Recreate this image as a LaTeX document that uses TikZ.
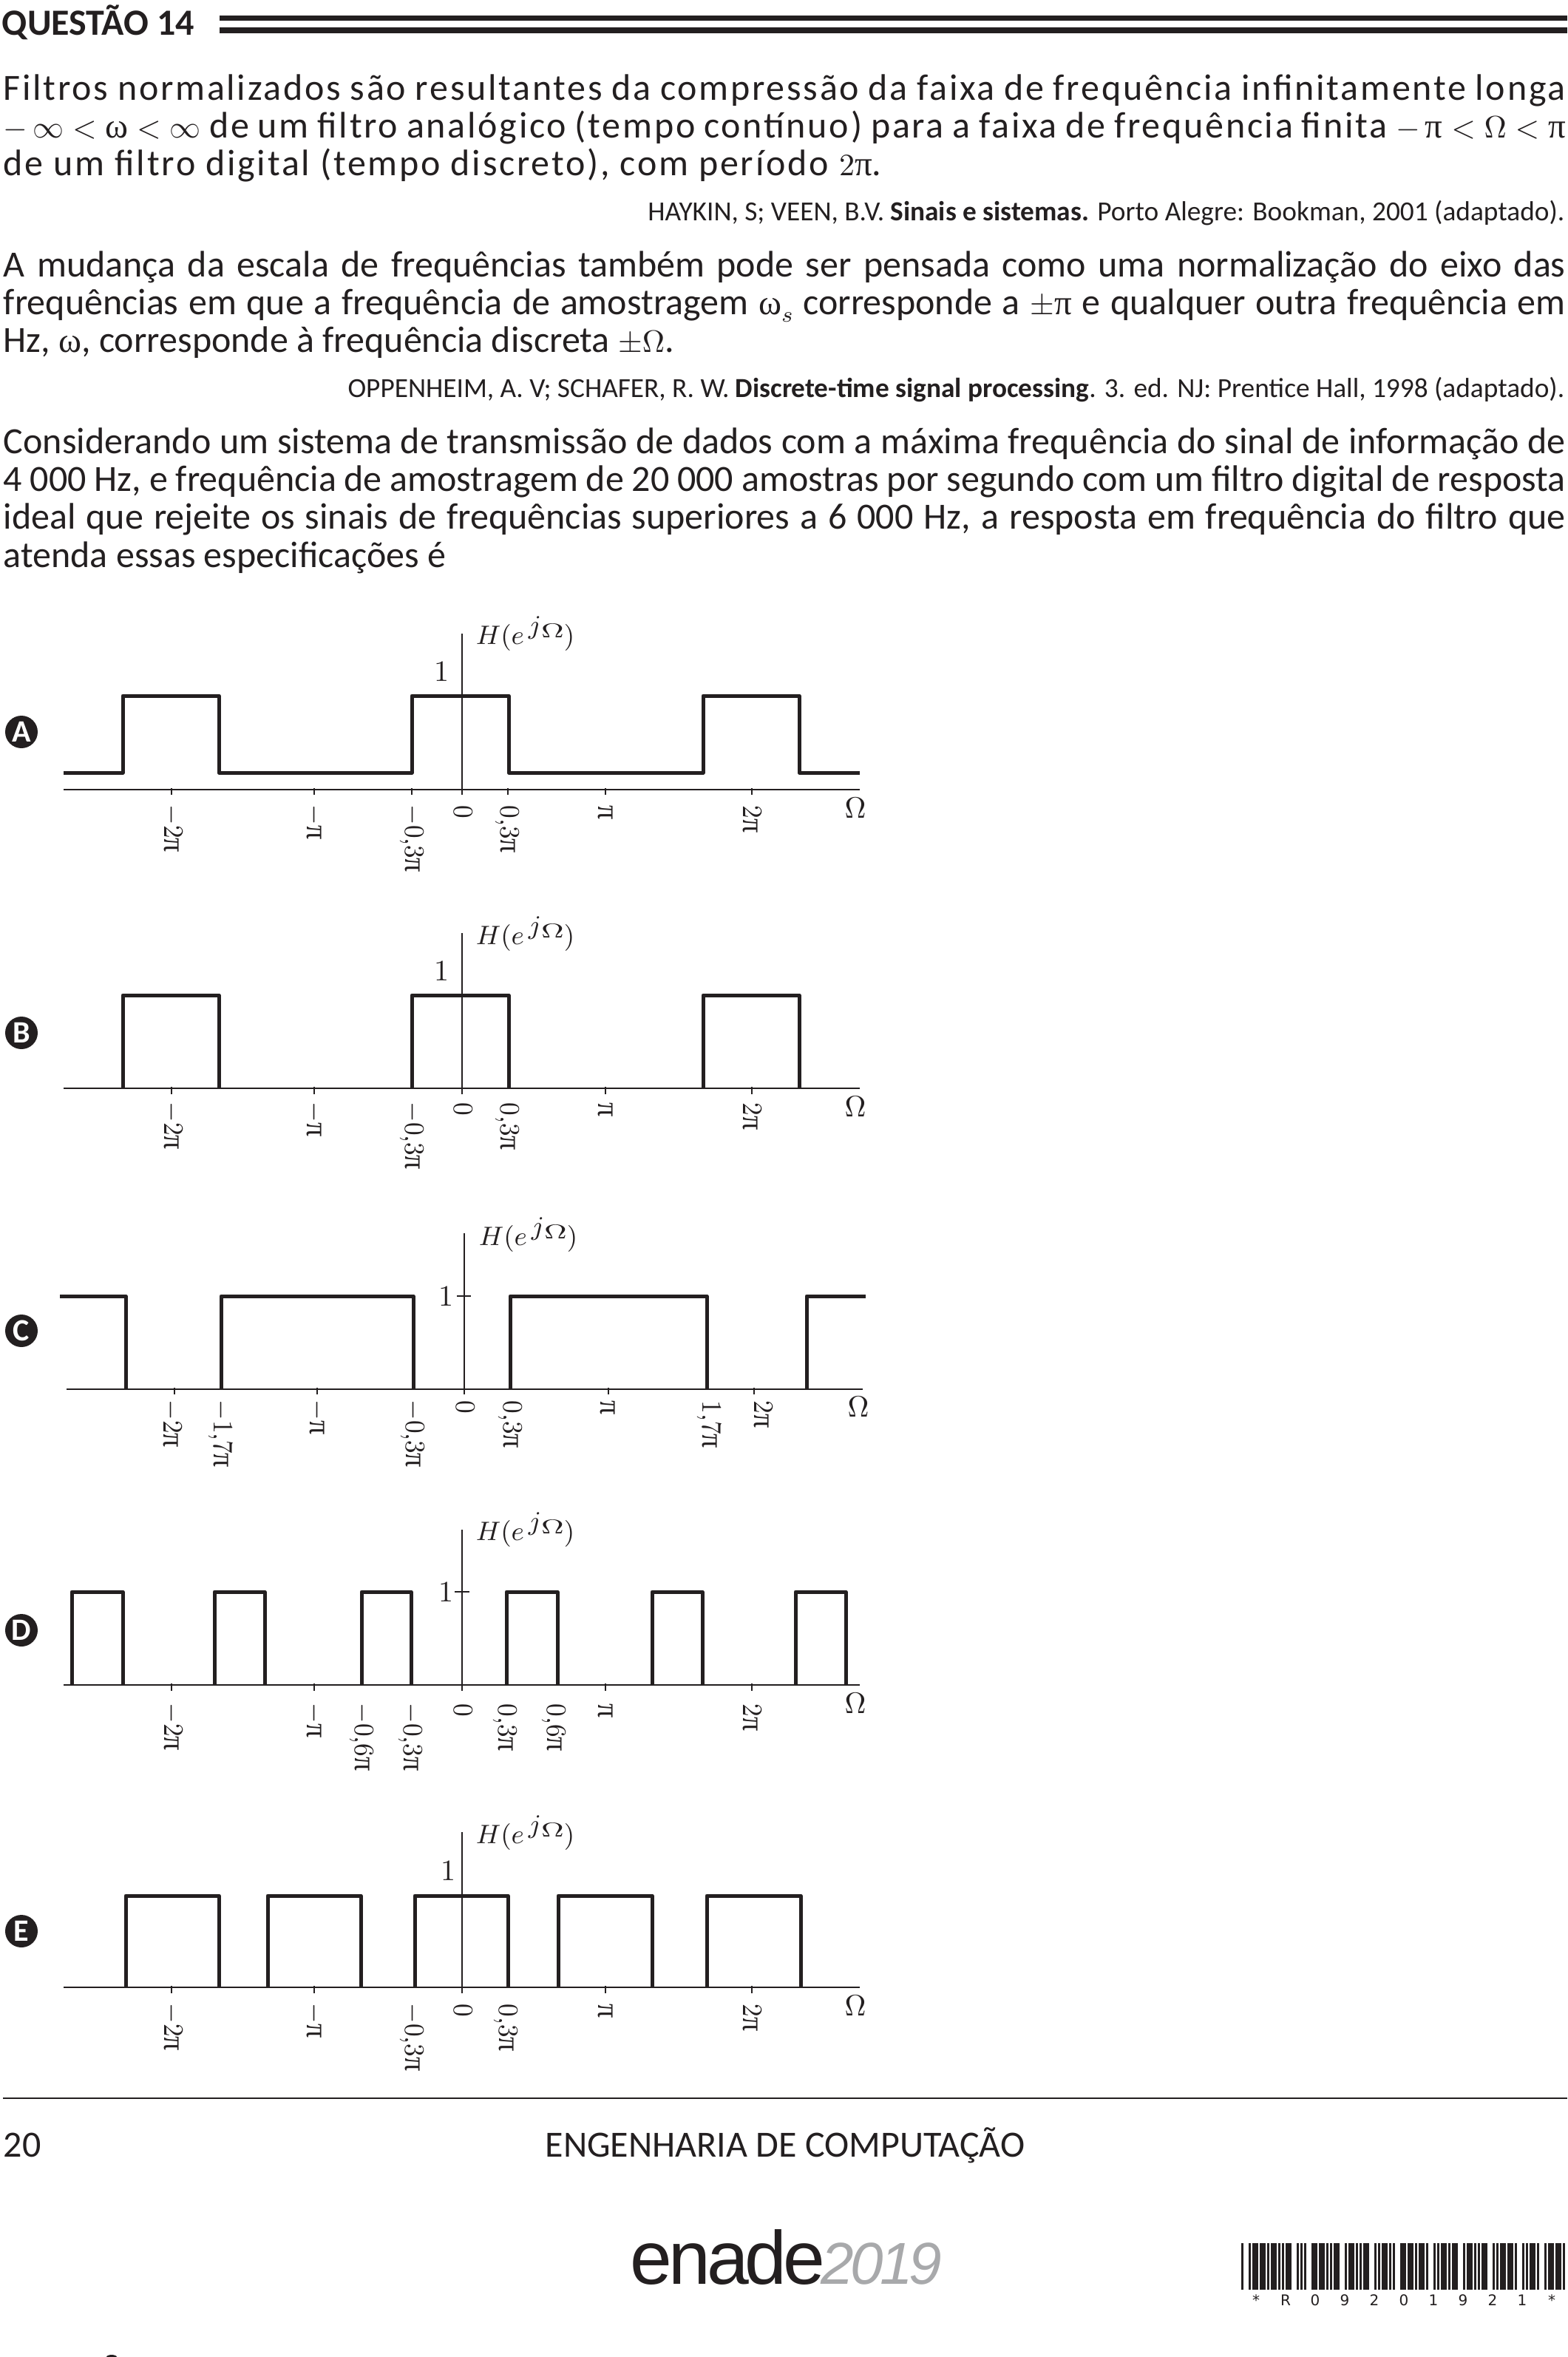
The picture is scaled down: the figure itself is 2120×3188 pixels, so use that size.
\documentclass[tikz,border=0pt]{standalone}
\usepackage{fix-cm}
\usepackage[no-math]{fontspec}
\setmainfont{Carlito}
\newfontfamily\spacedfont[LetterSpace=5.5]{Carlito}
\newfontfamily\logofont[LetterSpace=-5]{Liberation Sans}
\newfontfamily\yearfont[LetterSpace=-6,ItalicFont={Liberation Sans Italic}]{Liberation Sans}
\newfontfamily\barfont{DejaVu Sans}
\newfontfamily\greekfont[Scale=1.12]{Liberation Serif}
\definecolor{ink}{HTML}{231F20}
\definecolor{logogray}{HTML}{A8A9AB}
\newcommand{\uppi}{\mbox{\greekfont π}}
\newcommand{\upom}{\mbox{\greekfont ω}}
\newcommand{\fullline}[1]{\makebox[528.25pt][s]{#1}}
\newcommand{\bodymath}[1]{{\fontsize{10.5}{12}\selectfont$#1$}}
\newcommand{\codebars}[2]{\foreach \bx/\bw in {#2}{\fill (1679+40*#1+2.5*\bx,3034) rectangle ++(2.5*\bw,63);}}
\tikzset{
  bodyline/.style={anchor=base west,inner sep=0pt,font=\fontsize{12.5}{14}\selectfont},
  citeline/.style={anchor=base east,inner sep=0pt,font=\fontsize{9.33}{11}\selectfont},
  badge/.style={circle,fill=ink,text=white,inner sep=0pt,minimum size=11pt,font=\fontsize{10.5}{11}\selectfont\bfseries},
  curveline/.style={line width=1.25pt,line join=round},
  axisline/.style={line width=.5pt},
  heavyaxis/.style={line width=.7pt},
  ticklabel/.style={anchor=base west,rotate=-90,xscale=.9,transform shape,inner sep=0pt,font=\fontsize{9.5}{11}\selectfont},
  hlabel/.style={anchor=base west,inner sep=0pt,font=\fontsize{9}{11}\selectfont},
  onelabel/.style={anchor=base,inner sep=0pt,font=\fontsize{10}{11}\selectfont},
  omegalabel/.style={anchor=base,inner sep=0pt,font=\fontsize{10}{11}\selectfont}
}
\newcommand{\hfunc}{$H(e$\hspace{1.5pt}\raisebox{3.5pt}{$j$}\raisebox{2.25pt}{\scalebox{1.15}[.75]{$\Omega$}}$)$}
\begin{document}
\begin{tikzpicture}[x=.25pt,y=-.25pt,color=ink]
  \useasboundingbox (0,0) rectangle (2120,3188);

  \node[bodyline,font=\fontsize{12.5}{14}\selectfont\bfseries] (title) at (2,48) {QUESTÃO 14};
  \fill (297,21) rectangle (2120,28);
  \fill (297,37) rectangle (2120,45);

  \node[bodyline] (pa1) at (4,136) {\fullline{\spacedfont Filtros normalizados são resultantes da compressão da faixa de frequência infinitamente longa}};
  \node[bodyline] (pa2) at (4,187) {\fullline{\spacedfont \bodymath{-\,\infty<\upom<\infty} de um filtro analógico (tempo contínuo) para a faixa de frequência finita \bodymath{-\,\uppi<\Omega<\uppi}}};
  \node[bodyline] (pa3) at (4,238) {\spacedfont de um filtro digital (tempo discreto), com período \bodymath{2\uppi}.};
  \node[citeline] (cita) at (2117,299) {HAYKIN, S; VEEN, B.V. \textbf{Sinais e sistemas.} Porto Alegre: Bookman, 2001 (adaptado).};
  \node[bodyline] (pb1) at (4,375) {\fullline{A mudança da escala de frequências também pode ser pensada como uma normalização do eixo das}};
  \node[bodyline] (pb2) at (4,426) {\fullline{frequências em que a frequência de amostragem \bodymath{\upom}\raisebox{-2.5pt}{\bodymath{\scriptstyle s}} corresponde a \bodymath{\pm\uppi} e qualquer outra frequência em}};
  \node[bodyline] (pb3) at (4,477) {Hz, \bodymath{\upom}, corresponde à frequência discreta \bodymath{\pm\Omega}.};
  \node[citeline] (citb) at (2117,538) {OPPENHEIM, A. V; SCHAFER, R. W. \textbf{Discrete-time signal processing}. 3. ed. NJ: Prentice Hall, 1998 (adaptado).};
  \node[bodyline] (pc1) at (4,613) {\fullline{Considerando um sistema de transmissão de dados com a máxima frequência do sinal de informação de}};
  \node[bodyline] (pc2) at (4,664) {\fullline{4~000 Hz, e frequência de amostragem de 20~000 amostras por segundo com um filtro digital de resposta}};
  \node[bodyline] (pc3) at (4,715) {\fullline{ideal que rejeite os sinais de frequências superiores a 6~000 Hz, a resposta em frequência do filtro que}};
  \node[bodyline] (pc4) at (4,767) {atenda essas especificações é};

  \node[badge] (badgea) at (29,990) {A};
  \draw[curveline] (86,1045) -- (166,1045) -- (166,941) -- (296,941) -- (296,1045) -- (557,1045) -- (557,941) -- (688,941) -- (688,1045) -- (951,1045) -- (951,941) -- (1081,941) -- (1081,1045) -- (1163,1045);
  \draw[axisline] (86,1068) -- (1163,1068);
  \draw[axisline] (624.5,857) -- (624.5,1075);
  \draw[axisline] (232,1066) -- (232,1075);
  \draw[axisline] (425,1066) -- (425,1075);
  \draw[axisline] (557,1066) -- (557,1075);
  \draw[axisline] (687,1066) -- (687,1075);
  \draw[axisline] (819,1066) -- (819,1075);
  \draw[axisline] (1017,1066) -- (1017,1075);
  \node[hlabel] (ha) at (643,871) {\hfunc};
  \node[onelabel] (onea) at (597,921) {$1$};
  \node[omegalabel] (oma) at (1157,1106) {$\Omega$};
  \node[ticklabel] (amtwo) at (222,1088) {$-2\uppi$};
  \node[ticklabel] (amone) at (415,1088) {$-\uppi$};
  \node[ticklabel] (amthree) at (548,1088) {$-0{,}3\uppi$};
  \node[ticklabel] (azero) at (614,1089) {$0$};
  \node[ticklabel] (apthree) at (677,1089) {$0{,}3\uppi$};
  \node[ticklabel] (apone) at (809,1089) {$\uppi$};
  \node[ticklabel] (aptwo) at (1005,1089) {$2\uppi$};

  \node[badge] (badgeb) at (29,1397) {B};
  \draw[curveline] (166,1472) -- (166,1346) -- (296,1346) -- (296,1472);
  \draw[curveline] (557,1472) -- (557,1346) -- (688,1346) -- (688,1472);
  \draw[curveline] (951,1472) -- (951,1346) -- (1081,1346) -- (1081,1472);
  \draw[axisline] (86,1472) -- (1163,1472);
  \draw[axisline] (624.5,1262) -- (624.5,1480);
  \draw[axisline] (232,1470) -- (232,1480);
  \draw[axisline] (425,1470) -- (425,1480);
  \draw[axisline] (819,1470) -- (819,1480);
  \draw[axisline] (1017,1470) -- (1017,1480);
  \node[hlabel] (hb) at (643,1277) {\hfunc};
  \node[onelabel] (oneb) at (597,1326) {$1$};
  \node[omegalabel] (omb) at (1157,1510) {$\Omega$};
  \node[ticklabel] (bmtwo) at (222,1490) {$-2\uppi$};
  \node[ticklabel] (bmone) at (415,1490) {$-\uppi$};
  \node[ticklabel] (bmthree) at (548,1490) {$-0{,}3\uppi$};
  \node[ticklabel] (bzero) at (614,1491) {$0$};
  \node[ticklabel] (bpthree) at (677,1491) {$0{,}3\uppi$};
  \node[ticklabel] (bpone) at (809,1491) {$\uppi$};
  \node[ticklabel] (bptwo) at (1005,1491) {$2\uppi$};

  \node[badge] (badgec) at (29,1800) {C};
  \draw[curveline] (81,1753) -- (170,1753) -- (170,1879);
  \draw[curveline] (299,1879) -- (299,1753) -- (559,1753) -- (559,1879);
  \draw[curveline] (690,1879) -- (690,1753) -- (956,1753) -- (956,1879);
  \draw[curveline] (1091,1879) -- (1091,1753) -- (1171,1753);
  \draw[axisline] (90,1879) -- (1167,1879);
  \draw[axisline] (628,1668) -- (628,1886);
  \draw[axisline] (618,1753) -- (637,1753);
  \draw[axisline] (236,1877) -- (236,1886);
  \draw[axisline] (429,1877) -- (429,1886);
  \draw[axisline] (823,1877) -- (823,1886);
  \draw[axisline] (1020,1877) -- (1020,1886);
  \node[hlabel] (hc) at (647,1684) {\hfunc};
  \node[onelabel] (onec) at (603,1766) {$1$};
  \node[omegalabel] (omc) at (1161,1916) {$\Omega$};
  \node[ticklabel] (cmtwo) at (221,1893) {$-2\uppi$};
  \node[ticklabel] (cmseven) at (289,1893) {$-1{,}7\uppi$};
  \node[ticklabel] (cmone) at (419,1893) {$-\uppi$};
  \node[ticklabel] (cmthree) at (549,1893) {$-0{,}3\uppi$};
  \node[ticklabel] (czero) at (617,1894) {$0$};
  \node[ticklabel] (cpthree) at (681,1894) {$0{,}3\uppi$};
  \node[ticklabel] (cpone) at (812,1894) {$\uppi$};
  \node[ticklabel] (cpseven) at (950,1894) {$1{,}7\uppi$};
  \node[ticklabel] (cptwo) at (1020,1894) {$2\uppi$};

  \node[badge] (badged) at (29,2205) {D};
  \draw[curveline] (97,2279) -- (97,2153) -- (166,2153) -- (166,2279);
  \draw[curveline] (290,2279) -- (290,2153) -- (358,2153) -- (358,2279);
  \draw[curveline] (489,2279) -- (489,2153) -- (556,2153) -- (556,2279);
  \draw[curveline] (685,2279) -- (685,2153) -- (754,2153) -- (754,2279);
  \draw[curveline] (882,2279) -- (882,2153) -- (950,2153) -- (950,2279);
  \draw[curveline] (1076,2279) -- (1076,2153) -- (1144,2153) -- (1144,2279);
  \draw[heavyaxis] (86,2279) -- (1163,2279);
  \draw[axisline] (624.5,2069) -- (624.5,2287);
  \draw[axisline] (615,2153) -- (635,2153);
  \draw[axisline] (232,2277) -- (232,2287);
  \draw[axisline] (425,2277) -- (425,2287);
  \draw[axisline] (819,2277) -- (819,2287);
  \draw[axisline] (1017,2277) -- (1017,2287);
  \node[hlabel] (hd) at (643,2083) {\hfunc};
  \node[onelabel] (oned) at (603,2166) {$1$};
  \node[omegalabel] (omd) at (1157,2317) {$\Omega$};
  \node[ticklabel] (dmtwo) at (222,2303) {$-2\uppi$};
  \node[ticklabel] (dmone) at (415,2303) {$-\uppi$};
  \node[ticklabel] (dmsix) at (480,2303) {$-0{,}6\uppi$};
  \node[ticklabel] (dmthree) at (546,2303) {$-0{,}3\uppi$};
  \node[ticklabel] (dzero) at (614,2304) {$0$};
  \node[ticklabel] (dpthree) at (674,2304) {$0{,}3\uppi$};
  \node[ticklabel] (dpsix) at (740,2304) {$0{,}6\uppi$};
  \node[ticklabel] (dpone) at (809,2304) {$\uppi$};
  \node[ticklabel] (dptwo) at (1005,2304) {$2\uppi$};

  \node[badge] (badgee) at (29,2612) {E};
  \draw[curveline] (170,2688) -- (170,2564) -- (296,2564) -- (296,2688);
  \draw[curveline] (362,2688) -- (362,2564) -- (488,2564) -- (488,2688);
  \draw[curveline] (561,2688) -- (561,2564) -- (687,2564) -- (687,2688);
  \draw[curveline] (755,2688) -- (755,2564) -- (882,2564) -- (882,2688);
  \draw[curveline] (956,2688) -- (956,2564) -- (1083,2564) -- (1083,2688);
  \draw[heavyaxis] (86,2688) -- (1163,2688);
  \draw[axisline] (624.5,2478) -- (624.5,2696);
  \draw[axisline] (232,2686) -- (232,2696);
  \draw[axisline] (425,2686) -- (425,2696);
  \draw[axisline] (819,2686) -- (819,2696);
  \draw[axisline] (1017,2686) -- (1017,2696);
  \node[hlabel] (he) at (643,2493) {\hfunc};
  \node[onelabel] (onee) at (606,2543) {$1$};
  \node[omegalabel] (ome) at (1157,2726) {$\Omega$};
  \node[ticklabel] (emtwo) at (222,2709) {$-2\uppi$};
  \node[ticklabel] (emone) at (415,2709) {$-\uppi$};
  \node[ticklabel] (emthree) at (548,2709) {$-0{,}3\uppi$};
  \node[ticklabel] (ezero) at (614,2710) {$0$};
  \node[ticklabel] (epthree) at (675,2710) {$0{,}3\uppi$};
  \node[ticklabel] (epone) at (809,2710) {$\uppi$};
  \node[ticklabel] (eptwo) at (1005,2710) {$2\uppi$};

  \draw[line width=.65pt] (4,2838) -- (2120,2838);
  \node[bodyline] (pagenum) at (4,2917) {20};
  \node[bodyline,anchor=base] (course) at (1062,2917) {ENGENHARIA DE COMPUTAÇÃO};

  \node[anchor=base west,inner sep=0pt,font=\fontsize{25.5}{27}\selectfont\logofont] (enadeword) at (852,3089) {enade};
  \node[anchor=base west,inner sep=0pt,text=logogray,font=\fontsize{20}{22}\selectfont\yearfont\itshape] (enadeyear) at (1110,3089) {2019};

  \codebars{0}{0/1,4/1,6/3,10/3,14/1}
  \codebars{1}{0/3,4/1,6/1,8/3,14/1}
  \codebars{2}{0/1,2/1,6/3,10/3,14/1}
  \codebars{3}{0/1,2/3,8/1,10/3,14/1}
  \codebars{4}{0/1,2/3,8/1,10/1,12/3}
  \codebars{5}{0/1,2/1,6/3,10/3,14/1}
  \codebars{6}{0/3,4/1,8/1,10/1,12/3}
  \codebars{7}{0/1,2/3,8/1,10/3,14/1}
  \codebars{8}{0/1,2/3,8/1,10/1,12/3}
  \codebars{9}{0/3,4/1,8/1,10/1,12/3}
  \codebars{10}{0/1,4/1,6/3,10/3,14/1}
  \foreach \ch [count=\k from 0] in {*,R,0,9,2,0,1,9,2,1,*}
    \node[anchor=base,inner sep=0pt,font=\fontsize{5}{6}\selectfont\barfont] (bartext\k) at (1699+40*\k,3118) {\ch};

  \fill (151,3188) ellipse (7 and 3);
\end{tikzpicture}
\end{document}
